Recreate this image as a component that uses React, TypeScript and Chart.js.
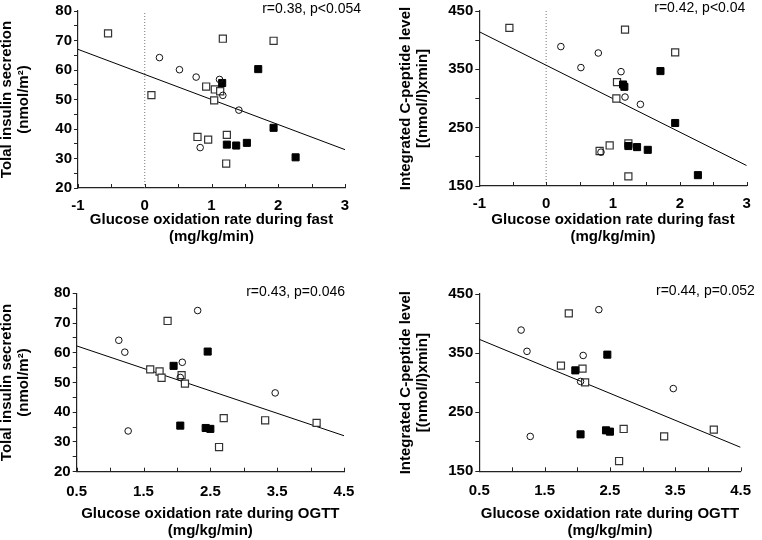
import React, { useEffect, useRef } from 'react';
import { Chart, registerables } from 'chart.js';
Chart.register(...registerables);

type Pt = [number, number];

// ---------- Panel 1: fasting glucose oxidation vs total insulin secretion ----------
const fastInsOpen: Pt[] = [[-0.55, 72.4], [1.17, 70.6], [1.93, 69.9], [0.10, 51.5], [0.92, 54.4], [1.05, 53.4], [1.13, 52.8], [1.04, 49.7], [0.79, 37.3], [0.95, 36.4], [1.23, 38.0], [1.22, 28.3]];
const fastInsFilled: Pt[] = [[1.16, 55.6], [1.70, 60.3], [1.93, 40.4], [1.23, 34.7], [1.37, 34.4], [1.53, 35.3], [2.26, 30.4]];
const fastInsCircle: Pt[] = [[0.22, 64.2], [0.52, 60.1], [0.77, 57.6], [1.12, 56.8], [1.17, 51.4], [1.41, 46.4], [0.83, 33.7]];
const fastInsTrend: Pt[] = [[-1, 67.0], [3, 33.0]];

// ---------- Panel 2: fasting glucose oxidation vs integrated C-peptide ----------
const fastCpOpen: Pt[] = [[-0.55, 421], [1.18, 418], [1.93, 379], [1.06, 328], [1.05, 300], [0.80, 210], [0.95, 219.5], [1.23, 223], [1.23, 166.5]];
const fastCpFilled: Pt[] = [[1.15, 324], [1.17, 320], [1.71, 347], [1.93, 258], [1.23, 218.5], [1.36, 216.7], [1.52, 212], [2.27, 168.6]];
const fastCpCircle: Pt[] = [[0.22, 389], [0.52, 353], [0.78, 378], [1.12, 346], [1.18, 302.5], [1.41, 290], [0.82, 208]];
const fastCpTrend: Pt[] = [[-1, 414.4], [3, 185]];

// ---------- Panel 3: OGTT glucose oxidation vs total insulin secretion ----------
const ogttInsOpen: Pt[] = [[1.86, 70.7], [1.60, 54.4], [1.74, 53.7], [1.77, 51.6], [2.07, 52.5], [2.12, 49.6], [2.70, 38.0], [2.63, 28.3], [3.32, 37.3], [4.09, 36.4]];
const ogttInsFilled: Pt[] = [[1.95, 55.6], [2.46, 60.4], [2.05, 35.5], [2.43, 34.7], [2.50, 34.4]];
const ogttInsCircle: Pt[] = [[1.13, 64.2], [1.22, 60.2], [2.31, 74.2], [2.08, 56.8], [2.05, 51.7], [3.47, 46.5], [1.27, 33.7]];
const ogttInsTrend: Pt[] = [[0.5, 62.3], [4.5, 32.1]];

// ---------- Panel 4: OGTT glucose oxidation vs integrated C-peptide ----------
const ogttCpOpen: Pt[] = [[1.87, 417.3], [1.75, 328.7], [2.08, 323.7], [2.12, 300.5], [2.71, 221.6], [3.33, 209.2], [4.09, 220.5], [2.64, 167.4]];
const ogttCpFilled: Pt[] = [[1.97, 320.8], [2.46, 347.4], [2.05, 212.5], [2.44, 219.3], [2.50, 217.1]];
const ogttCpCircle: Pt[] = [[1.14, 389], [1.23, 353], [2.33, 423.5], [2.09, 346], [2.05, 302], [3.47, 290], [1.28, 209]];
const ogttCpTrend: Pt[] = [[0.5, 373.3], [4.5, 190.6]];

// ---------- axes / labels ----------
const fastXRange: Pt = [-1, 3];
const ogttXRange: Pt = [0.5, 4.5];
const insYRange: Pt = [20, 80];
const cpYRange: Pt = [150, 450];
const insYTitle = ['Tolal insulin secretion', '(nmol/m²)'];
const cpYTitle = ['Integrated C-peptide level', '[(nmol/l)xmin]'];
const fastXTitle = ['Glucose oxidation rate during fast', '(mg/kg/min)'];
const ogttXTitle = ['Glucose oxidation rate during OGTT', '(mg/kg/min)'];
const statTexts = ['r=0.38, p<0.054', 'r=0.42, p<0.04', 'r=0.43, p=0.046', 'r=0.44, p=0.052'];

const FONT = '"Liberation Sans", Arial, Helvetica, sans-serif';
const W = 381;
const H = 270;

const toXY = (a: Pt[]) => a.map(([x, y]) => ({ x, y }));

const decorPlugin = {
  id: 'decor',
  afterDraw(chart: any, _args: any, opts: any) {
    const { ctx, chartArea, scales } = chart;
    const xs = scales.x;
    ctx.save();
    ctx.strokeStyle = '#222';
    ctx.lineWidth = 1;
    xs.ticks.forEach((t: any) => {
      const px = Math.round(xs.getPixelForValue(t.value)) + 0.5;
      ctx.beginPath();
      ctx.moveTo(px, chartArea.bottom);
      ctx.lineTo(px, chartArea.bottom - 4);
      ctx.stroke();
    });
    ctx.font = `14px ${FONT}`;
    ctx.fillStyle = '#000';
    ctx.textAlign = 'right';
    ctx.textBaseline = 'middle';
    ctx.fillText(opts.text, chartArea.right + opts.dx, chartArea.top + opts.dy);
    ctx.restore();
  },
};

interface PanelCfg {
  open: Pt[];
  filled: Pt[];
  circle: Pt[];
  trend: Pt[];
  xRange: Pt;
  yRange: Pt;
  xStep: number;
  yStep: number;
  xLabelEvery: (v: number) => string;
  yLabelEvery: (v: number) => string;
  xTitle: string[];
  yTitle: string[];
  zeroLine: boolean;
  stat: string;
  statDx: number;
  statDy: number;
  box: { left: number; top: number; right: number; bottom: number };
  yTitlePad: number;
  xTitlePad: number;
  xTickPad: number;
}

const near = (a: number, b: number) => Math.abs(a - b) < 1e-6;

function Panel({ cfg, left, top }: { cfg: PanelCfg; left: number; top: number }) {
  const ref = useRef<HTMLCanvasElement>(null);
  useEffect(() => {
    if (!ref.current) return;
    const datasets: any[] = [
      {
        data: toXY(cfg.circle), pointStyle: 'circle', pointRadius: 3.3, pointHoverRadius: 3.3,
        borderColor: '#111', borderWidth: 1, backgroundColor: 'rgba(255,255,255,0)', order: 1,
      },
      {
        data: toXY(cfg.filled), pointStyle: 'rect', pointRadius: 5, pointHoverRadius: 5,
        borderColor: '#000', borderWidth: 1, backgroundColor: '#000', order: 2,
      },
      {
        data: toXY(cfg.open), pointStyle: 'rect', pointRadius: 5, pointHoverRadius: 5,
        borderColor: '#333', borderWidth: 1.2, backgroundColor: '#fff', order: 3,
      },
      {
        data: toXY(cfg.trend), showLine: true, pointRadius: 0, borderColor: '#000',
        borderWidth: 1, fill: false, order: 10,
      },
    ];
    if (cfg.zeroLine) {
      datasets.push({
        data: [{ x: 0, y: cfg.yRange[0] }, { x: 0, y: cfg.yRange[1] }], showLine: true, pointRadius: 0,
        borderColor: '#777', borderWidth: 1, borderDash: [1, 2], fill: false, order: 11,
      });
    }
    const b = cfg.box;
    const chart = new Chart(ref.current, {
      type: 'scatter',
      data: { datasets },
      plugins: [decorPlugin as any],
      options: {
        animation: false,
        responsive: false,
        events: [],
        layout: { padding: { left: 0, top: b.top, right: W - b.right, bottom: 0 } },
        plugins: {
          legend: { display: false },
          tooltip: { enabled: false },
          decor: { text: cfg.stat, dx: cfg.statDx, dy: cfg.statDy },
        } as any,
        scales: {
          x: {
            type: 'linear',
            min: cfg.xRange[0],
            max: cfg.xRange[1],
            grid: { display: false, drawTicks: false },
            border: { display: true, color: '#222', width: 1.2 },
            ticks: {
              stepSize: cfg.xStep,
              autoSkip: false,
              maxRotation: 0,
              padding: cfg.xTickPad,
              color: '#000',
              font: { family: FONT, size: 15, weight: 'bold' },
              callback: (v: any) => cfg.xLabelEvery(Number(v)),
            },
            title: {
              display: true,
              text: cfg.xTitle,
              color: '#000',
              font: { family: FONT, size: 15, weight: 'bold', lineHeight: 1.13 },
              padding: { top: 0, bottom: cfg.xTitlePad },
            },
            afterFit: (s: any) => { s.height = H - b.bottom; },
          },
          y: {
            type: 'linear',
            min: cfg.yRange[0],
            max: cfg.yRange[1],
            grid: { display: true, drawOnChartArea: false, drawTicks: true, tickLength: 4, color: '#222', lineWidth: 1 },
            border: { display: true, color: '#222', width: 1.2 },
            ticks: {
              stepSize: cfg.yStep,
              autoSkip: false,
              padding: 2,
              color: '#000',
              font: { family: FONT, size: 15, weight: 'bold' },
              callback: (v: any) => cfg.yLabelEvery(Number(v)),
            },
            title: {
              display: true,
              text: cfg.yTitle,
              color: '#000',
              font: { family: FONT, size: 15, weight: 'bold', lineHeight: 1.13 },
              padding: { top: cfg.yTitlePad, bottom: 0 },
            },
            afterFit: (s: any) => { s.width = b.left; },
          },
        },
      } as any,
    });
    return () => chart.destroy();
  }, [cfg]);
  return (
    <canvas
      ref={ref}
      width={W}
      height={H}
      style={{ position: 'absolute', left, top, width: W, height: H }}
    />
  );
}

const fastXLabel = (v: number) => (near(v, Math.round(v)) ? String(Math.round(v)) : '');
const ogttXLabel = (v: number) => (near(v - 0.5, Math.round(v - 0.5)) ? v.toFixed(1) : '');
const insYLabel = (v: number) => (near(v % 10, 0) ? String(v) : '');
const cpYLabel = (v: number) => (near((v - 150) % 100, 0) ? String(v) : '');

const panels: { cfg: PanelCfg; left: number; top: number }[] = [
  {
    left: 0, top: 0,
    cfg: {
      open: fastInsOpen, filled: fastInsFilled, circle: fastInsCircle, trend: fastInsTrend,
      xRange: fastXRange, yRange: insYRange, xStep: 0.5, yStep: 5,
      xLabelEvery: fastXLabel, yLabelEvery: insYLabel,
      xTitle: fastXTitle, yTitle: insYTitle, zeroLine: true,
      stat: statTexts[0], statDx: 16, statDy: -2.3,
      box: { left: 78, top: 9, right: 345, bottom: 188 },
      yTitlePad: -1.2, xTitlePad: 24.5, xTickPad: 9,
    },
  },
  {
    left: W, top: 0,
    cfg: {
      open: fastCpOpen, filled: fastCpFilled, circle: fastCpCircle, trend: fastCpTrend,
      xRange: fastXRange, yRange: cpYRange, xStep: 0.5, yStep: 50,
      xLabelEvery: fastXLabel, yLabelEvery: cpYLabel,
      xTitle: fastXTitle, yTitle: cpYTitle, zeroLine: true,
      stat: statTexts[1], statDx: -1.4, statDy: -3.3,
      box: { left: 98.3, top: 9, right: 365.7, bottom: 186 },
      yTitlePad: 16.8, xTitlePad: 24.5, xTickPad: 9,
    },
  },
  {
    left: 0, top: H,
    cfg: {
      open: ogttInsOpen, filled: ogttInsFilled, circle: ogttInsCircle, trend: ogttInsTrend,
      xRange: ogttXRange, yRange: insYRange, xStep: 0.5, yStep: 5,
      xLabelEvery: ogttXLabel, yLabelEvery: insYLabel,
      xTitle: ogttXTitle, yTitle: insYTitle, zeroLine: false,
      stat: statTexts[2], statDx: 1, statDy: -1.6,
      box: { left: 76.7, top: 23.3, right: 344, bottom: 201.7 },
      yTitlePad: -1.2, xTitlePad: 0.5, xTickPad: 11,
    },
  },
  {
    left: W, top: H,
    cfg: {
      open: ogttCpOpen, filled: ogttCpFilled, circle: ogttCpCircle, trend: ogttCpTrend,
      xRange: ogttXRange, yRange: cpYRange, xStep: 0.5, yStep: 50,
      xLabelEvery: ogttXLabel, yLabelEvery: cpYLabel,
      xTitle: ogttXTitle, yTitle: cpYTitle, zeroLine: false,
      stat: statTexts[3], statDx: 14.3, statDy: -3.3,
      box: { left: 98.3, top: 24, right: 365.7, bottom: 201.3 },
      yTitlePad: 16.8, xTitlePad: 0.5, xTickPad: 11,
    },
  },
];

export default function App() {
  return (
    <div style={{ position: 'fixed', left: 0, top: 0, width: 762, height: 540, background: '#fff', overflow: 'hidden' }}>
      {panels.map((p, i) => (
        <Panel key={i} cfg={p.cfg} left={p.left} top={p.top} />
      ))}
    </div>
  );
}
